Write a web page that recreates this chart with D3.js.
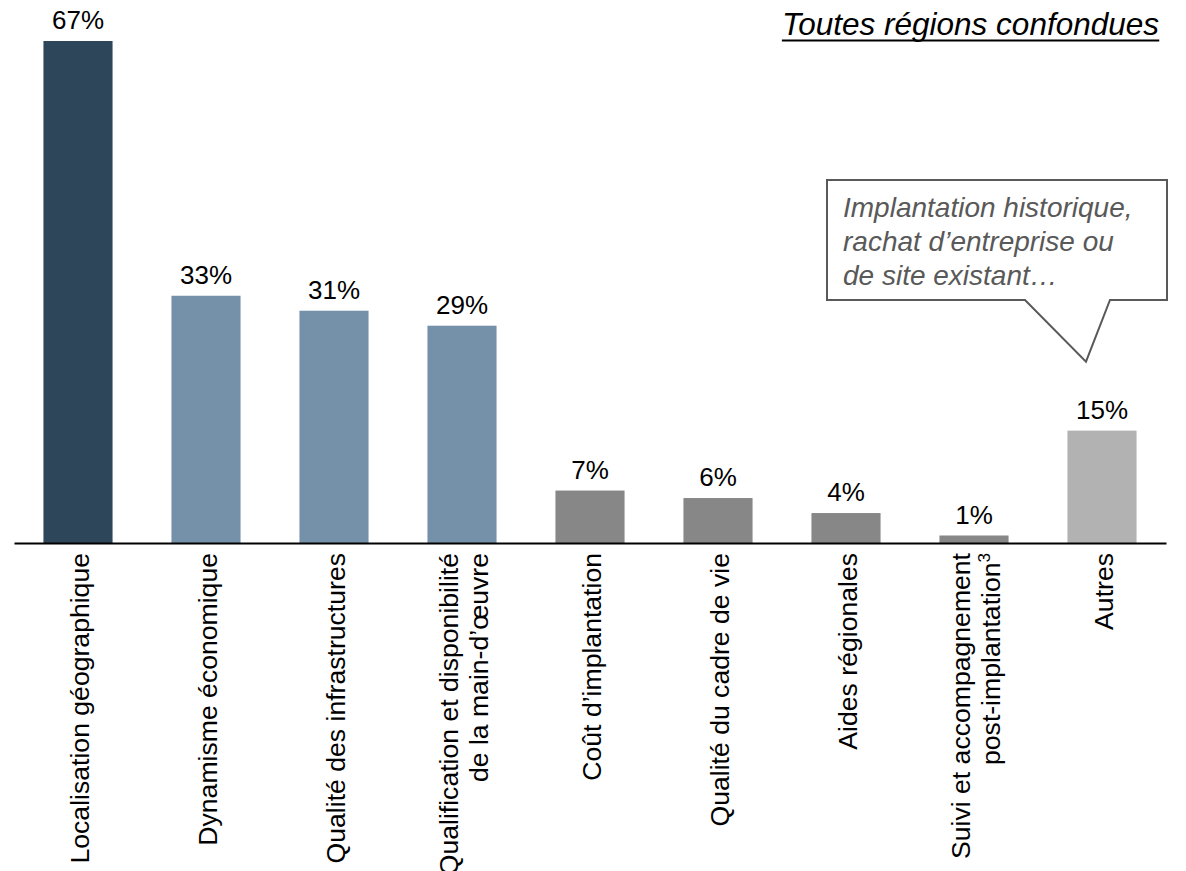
<!DOCTYPE html>
<html>
<head>
<meta charset="utf-8">
<script src="https://cdn.jsdelivr.net/npm/d3@7"></script>
<style>
  body { margin: 0; background: #fff; }
  svg { display: block; font-family: "Liberation Sans", Arial, sans-serif; }
</style>
</head>
<body>
<svg id="chart" width="1186" height="871"></svg>
<script>
const categories = [
  ["Localisation géographique"],
  ["Dynamisme économique"],
  ["Qualité des infrastructures"],
  ["Qualification et disponibilité", "de la main-d’œuvre"],
  ["Coût d’implantation"],
  ["Qualité du cadre de vie"],
  ["Aides régionales"],
  ["Suivi et accompagnement", "post-implantation³"],
  ["Autres"]
];
const values = [67, 33, 31, 29, 7, 6, 4, 1, 15];
const groups = ["dark", "mid", "mid", "mid", "gray", "gray", "gray", "gray", "light"];
const groupColors = { dark: "#2d4659", mid: "#7590a9", gray: "#878787", light: "#b2b2b2" };
const title = "Toutes régions confondues";
const calloutLines = ["Implantation historique,", "rachat d’entreprise ou", "de site existant…"];

const svg = d3.select("#chart");
const baseY = 543;
const x = d3.scaleBand().domain(d3.range(categories.length)).range([14, 1166])
  .paddingInner(0.46).paddingOuter(0.23);
const y = d3.scaleLinear().domain([0, 67]).range([baseY, 41]);

// bars
svg.selectAll("rect.bar").data(values).join("rect")
  .attr("class", "bar")
  .attr("x", (d, i) => x(i))
  .attr("width", x.bandwidth())
  .attr("y", d => y(d))
  .attr("height", d => baseY - y(d))
  .attr("fill", (d, i) => groupColors[groups[i]]);

// value labels
svg.selectAll("text.val").data(values).join("text")
  .attr("class", "val")
  .attr("x", (d, i) => x(i) + x.bandwidth() / 2)
  .attr("y", d => y(d) - 12)
  .attr("text-anchor", "middle")
  .attr("font-size", 26)
  .attr("fill", "#000")
  .text(d => d + "%");

// axis
const axis = d3.axisBottom(x).tickSize(0).tickFormat("");
const ax = svg.append("g").attr("transform", `translate(0,${baseY})`).call(axis);
ax.select(".domain").attr("stroke", "#000").attr("stroke-width", 2);

// category labels rotated
const lh = 30;
categories.forEach((lines, i) => {
  const cx = x(i) + x.bandwidth() / 2;
  const n = lines.length;
  lines.forEach((ln, j) => {
    const off = (j - (n - 1) / 2) * lh;
    const tx = cx + off + 11;
    const t = svg.append("text")
      .attr("transform", `translate(${tx},553) rotate(-90)`)
      .attr("text-anchor", "end")
      .attr("font-size", 26.6)
      .attr("fill", "#000");
    if (ln.endsWith("³")) {
      t.append("tspan").text(ln.slice(0, -1));
      t.append("tspan").attr("dy", -10).attr("font-size", 17).text("3");
    } else {
      t.text(ln);
    }
  });
});

// title
const tt = svg.append("text")
  .attr("x", 1159).attr("y", 35)
  .attr("text-anchor", "end")
  .attr("font-size", 31.5)
  .attr("font-style", "italic")
  .attr("fill", "#000")
  .text(title);
const bb = tt.node().getBBox();
svg.append("line")
  .attr("x1", bb.x).attr("x2", bb.x + bb.width)
  .attr("y1", 40.5).attr("y2", 40.5)
  .attr("stroke", "#000").attr("stroke-width", 2);

// callout
const otherIdx = categories.length - 1;
const tipX = x(otherIdx) + x.bandwidth() / 2 - 16;
const tipY = y(values[otherIdx]) - 69;
const bx0 = 827, bx1 = 1167, by0 = 180, by1 = 300;
svg.append("path")
  .attr("d", `M${bx0},${by0} L${bx1},${by0} L${bx1},${by1} L${1110},${by1} L${tipX},${tipY} L${1025},${by1} L${bx0},${by1} Z`)
  .attr("fill", "#fff")
  .attr("stroke", "#595959")
  .attr("stroke-width", 2);
calloutLines.forEach((ln, i) => {
  svg.append("text")
    .attr("x", 843).attr("y", 217 + i * 34)
    .attr("font-size", 28)
    .attr("font-style", "italic")
    .attr("fill", "#595959")
    .text(ln);
});
</script>
</body>
</html>
